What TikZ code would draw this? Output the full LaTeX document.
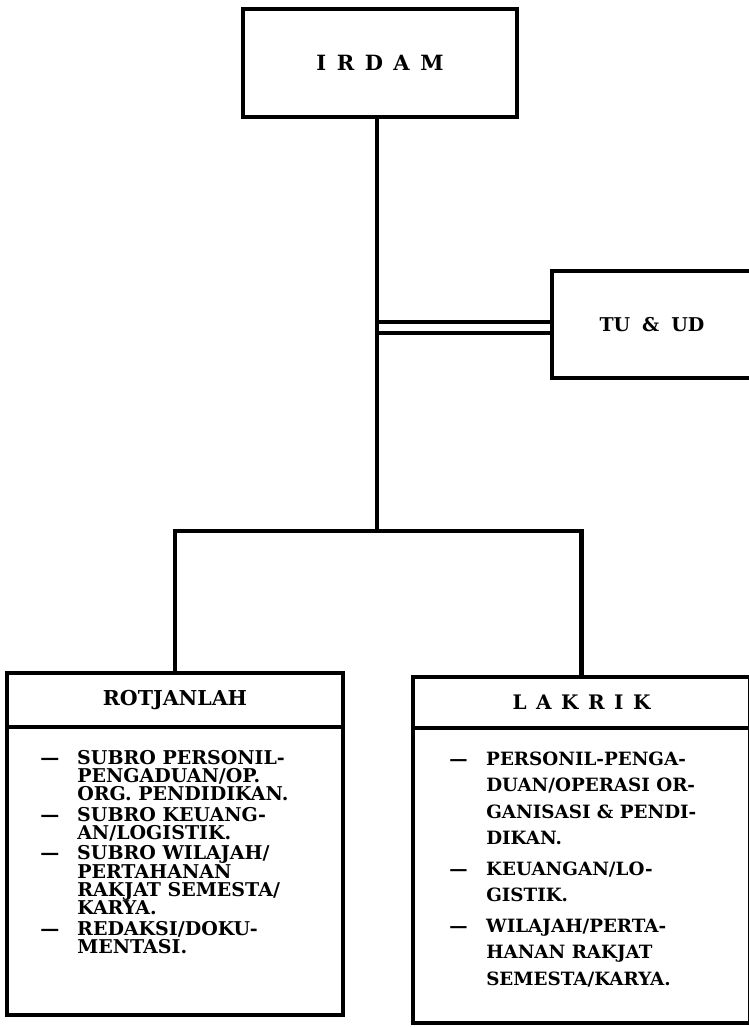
\documentclass[tikz,border=0pt]{standalone}
\usepackage{fontspec}
\setmainfont{DejaVu Serif}
\newcommand{\dsh}[1]{\makebox[#1][l]{\textemdash}}
\begin{document}
\begin{tikzpicture}[x=1pt,y=-1pt,line width=4.5pt,
  box/.style={draw,rectangle,inner sep=0pt,line width=4.5pt},
  rlist/.style={inner sep=0pt,align=left,font=\bfseries\fontsize{19}{18.3}\selectfont},
  llist/.style={inner sep=0pt,align=left,font=\bfseries\fontsize{18.3}{26.5}\selectfont}]
\useasboundingbox (0,0) rectangle (748,1027);
% boxes
\node[box,minimum width=274pt,minimum height=108pt,font=\bfseries\fontsize{21}{21}\selectfont] (irdam) at (380,63)
  {I\hspace{10.5pt}R\hspace{10.5pt}D\hspace{10.5pt}A\hspace{10.5pt}M};
\node[box,minimum width=200pt,minimum height=107pt,font=\bfseries\fontsize{19}{19}\selectfont] (tuud) at (652,324.5)
  {TU\hspace{12pt}\&\hspace{12pt}UD};
\node[box,minimum width=336pt,minimum height=54pt,font=\bfseries\fontsize{20.5}{20.5}\selectfont] (roth) at (175,700) {\raisebox{-1.5pt}{ROTJANLAH}};
\node[box,minimum width=336pt,minimum height=288pt] (rotb) at (175,871) {};
\node[box,minimum width=337pt,minimum height=51pt,font=\bfseries\fontsize{20}{20}\selectfont] (lakh) at (581.5,702.5)
  {L\hspace{9.5pt}A\hspace{9.5pt}K\hspace{9.5pt}R\hspace{9.5pt}I\hspace{9.5pt}K};
\node[box,minimum width=337pt,minimum height=295pt] (lakb) at (581.5,875.5) {};
% connectors
\coordinate (j) at (377,531);
\draw (irdam.south -| j) -- (j);
\draw (roth.north) -- (roth.north |- j) -- (lakh.north |- j) -- (lakh.north);
\draw ([yshift=2.5pt]tuud.west) -- ([yshift=2.5pt]tuud.west -| j);
\draw ([yshift=-8.5pt]tuud.west) -- ([yshift=-8.5pt]tuud.west -| j);
% lists
\node[rlist,anchor=north west] (rotl) at (38,748) {%
\dsh{37pt}SUBRO PERSONIL-\\
\hspace*{37pt}PENGADUAN/OP.\\
\hspace*{37pt}ORG. PENDIDIKAN.\\[2pt]
\dsh{37pt}SUBRO KEUANG-\\
\hspace*{37pt}AN/LOGISTIK.\\[2pt]
\dsh{37pt}SUBRO WILAJAH/\\
\hspace*{37pt}PERTAHANAN\\
\hspace*{37pt}RAKJAT SEMESTA/\\
\hspace*{37pt}KARYA.\\[2pt]
\dsh{37pt}REDAKSI/DOKU-\\
\hspace*{37pt}MENTASI.};
\node[llist,anchor=north west] (lakl) at (447,749.5) {%
\dsh{37pt}PERSONIL-PENGA-\\
\hspace*{37pt}DUAN/OPERASI OR-\\
\hspace*{37pt}GANISASI \& PENDI-\\
\hspace*{37pt}DIKAN.\\[4pt]
\dsh{37pt}KEUANGAN/LO-\\
\hspace*{37pt}GISTIK.\\[4pt]
\dsh{37pt}WILAJAH/PERTA-\\
\hspace*{37pt}HANAN RAKJAT\\
\hspace*{37pt}SEMESTA/KARYA.};
\end{tikzpicture}
\end{document}
